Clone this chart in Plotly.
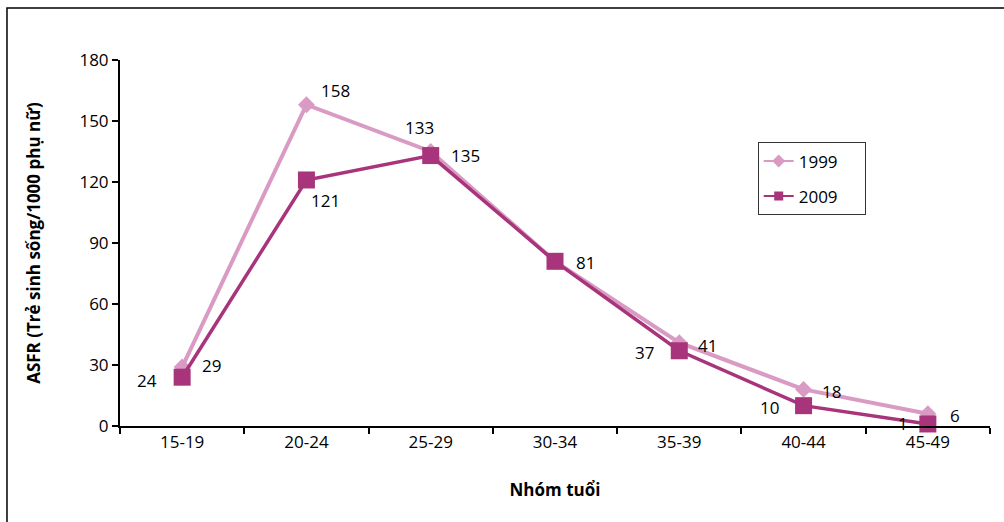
import plotly.graph_objects as go

categories = ["15-19", "20-24", "25-29", "30-34", "35-39", "40-44", "45-49"]
asfr_1999 = [29, 158, 135, 81, 41, 18, 6]
asfr_2009 = [24, 121, 133, 81, 37, 10, 1]
labels_1999 = ["29", "158", "135", "81", "41", "18", "6"]
labels_2009 = ["24", "121", "133", "", "37", "10", "1"]
# label offsets in pixels (dx, dy up)
off_1999 = [(29, 2), (29, 14), (35, -4), (30, -1), (28, -3), (28, -2), (27, -2)]
off_2009 = [(-35, -3), (19, -21), (-11, 28), (0, 0), (-35, -2), (-34, -2), (-25, 0)]

c1999 = "#D99BC3"
c2009 = "#A8347B"
font_family = "Open Sans, Noto Sans, sans-serif"
fs = 17
pad = "\u00a0" * 5

fig = go.Figure()
fig.add_trace(go.Scatter(
    x=categories, y=asfr_1999, name="1999", mode="lines+markers",
    line=dict(color=c1999, width=4),
    marker=dict(symbol="diamond", size=13, color=c1999),
    showlegend=False, cliponaxis=False,
))
fig.add_trace(go.Scatter(
    x=categories, y=asfr_2009, name="2009", mode="lines+markers",
    line=dict(color=c2009, width=3.5),
    marker=dict(symbol="square", size=17, color=c2009),
    showlegend=False, cliponaxis=False,
))
# legend-only entries with small symbols, as in the reference
fig.add_trace(go.Scatter(
    x=[None], y=[None], name="1999" + pad, mode="lines+markers",
    line=dict(color=c1999, width=2), marker=dict(symbol="diamond", size=10, color=c1999),
    legendgroup="a",
))
fig.add_trace(go.Scatter(
    x=[None], y=[None], name="2009" + pad, mode="lines+markers",
    line=dict(color=c2009, width=2), marker=dict(symbol="square", size=9, color=c2009),
    legendgroup="b",
))

annotations = []
for cat, val, lab, (dx, dy) in zip(categories, asfr_1999, labels_1999, off_1999):
    if lab:
        annotations.append(dict(x=cat, y=val, text=lab, showarrow=False,
                                xshift=dx, yshift=dy, font=dict(size=fs, color="#000000")))
for cat, val, lab, (dx, dy) in zip(categories, asfr_2009, labels_2009, off_2009):
    if lab:
        annotations.append(dict(x=cat, y=val, text=lab, showarrow=False,
                                xshift=dx, yshift=dy, font=dict(size=fs, color="#000000")))

fig.update_layout(
    width=1004, height=522,
    margin=dict(l=120, r=14, t=60, b=96),
    paper_bgcolor="white", plot_bgcolor="white",
    font=dict(family=font_family, size=fs, color="#000000"),
    showlegend=True,
    annotations=annotations,
    legend=dict(
        x=0.733, y=0.775, xanchor="left", yanchor="top",
        bordercolor="#333333", borderwidth=1, bgcolor="white",
        font=dict(size=fs), tracegroupgap=10,
    ),
    xaxis=dict(
        type="category", range=[-0.5, 6.5],
        showline=True, linecolor="#000000", linewidth=2,
        ticks="outside", tickson="boundaries", ticklen=6, tickcolor="#000000", tickwidth=2,
        showgrid=False, zeroline=False,
        tickfont=dict(size=fs),
        title=dict(text="<b>Nhóm tuổi</b>", font=dict(size=fs), standoff=32),
    ),
    yaxis=dict(
        range=[0, 180], tickvals=[0, 30, 60, 90, 120, 150, 180],
        showline=True, linecolor="#000000", linewidth=2,
        ticks="outside", ticklen=6, tickcolor="#000000", tickwidth=2,
        showgrid=False, zeroline=False,
        tickfont=dict(size=fs),
        title=dict(text="<b>ASFR (Trẻ sinh sống/1000 phụ nữ)</b>", font=dict(size=fs), standoff=34),
    ),
    shapes=[dict(
        type="rect", xref="paper", yref="paper",
        x0=-0.1299, x1=1.2, y0=-0.5, y1=1.142,
        line=dict(color="#000000", width=1.5), fillcolor="rgba(0,0,0,0)", layer="below",
    )],
)

fig.write_html("out.html")
